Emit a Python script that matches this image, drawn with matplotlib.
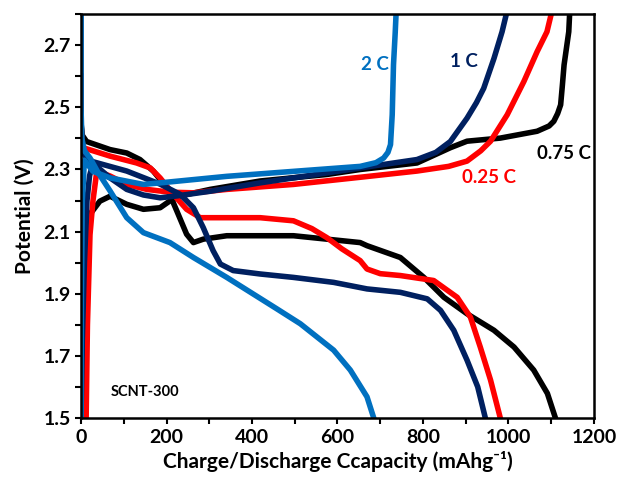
import matplotlib
matplotlib.use("Agg")
import matplotlib.pyplot as plt
from matplotlib.ticker import MultipleLocator

plt.rcParams['font.family'] = ['Lato', 'DejaVu Sans']
plt.rcParams['font.weight'] = 'bold'

# 2 C (light blue)
c2_dis_x = [0, 0, 2, 8, 21, 40, 68, 107, 146, 208, 263, 341, 458, 513, 591, 630, 669, 685]
c2_dis_y = [2.80, 2.50, 2.40, 2.36, 2.337, 2.29, 2.231, 2.145, 2.097, 2.065, 2.017, 1.953, 1.852, 1.804, 1.719, 1.655, 1.569, 1.50]
c2_chg_x = [0, 1, 3, 8, 28, 68, 146, 185, 341, 497, 653, 690, 708, 718, 724, 728, 731, 735, 737]
c2_chg_y = [1.50, 1.90, 2.20, 2.33, 2.294, 2.273, 2.252, 2.257, 2.278, 2.294, 2.31, 2.322, 2.337, 2.355, 2.38, 2.476, 2.637, 2.74, 2.80]

# 1 C (navy)
c1_dis_x = [0, 0, 3, 10, 28, 107, 185, 232, 263, 286, 309, 326, 356, 419, 497, 591, 669, 747, 810, 841, 872, 903, 928, 946]
c1_dis_y = [2.80, 2.45, 2.37, 2.34, 2.325, 2.295, 2.253, 2.22, 2.177, 2.113, 2.039, 1.996, 1.975, 1.964, 1.953, 1.937, 1.916, 1.905, 1.884, 1.847, 1.783, 1.687, 1.601, 1.50]
c1_chg_x = [0, 3, 8, 14, 20, 28, 68, 107, 146, 185, 224, 302, 419, 575, 653, 786, 830, 864, 903, 925, 942, 966, 985, 995]
c1_chg_y = [1.50, 1.75, 2.00, 2.20, 2.28, 2.32, 2.273, 2.236, 2.218, 2.209, 2.215, 2.23, 2.257, 2.289, 2.305, 2.332, 2.355, 2.39, 2.465, 2.515, 2.561, 2.657, 2.743, 2.80]

# 0.75 C (black)
c075_dis_x = [0, 0, 3, 13, 68, 107, 138, 169, 201, 224, 247, 263, 286, 341, 497, 653, 669, 747, 802, 849, 903, 966, 1013, 1059, 1091, 1110]
c075_dis_y = [2.60, 2.45, 2.41, 2.39, 2.364, 2.353, 2.332, 2.295, 2.241, 2.167, 2.092, 2.065, 2.076, 2.087, 2.087, 2.065, 2.055, 2.017, 1.953, 1.889, 1.836, 1.783, 1.729, 1.655, 1.58, 1.50]
c075_chg_x = [0, 3, 8, 14, 21, 44, 68, 107, 146, 185, 208, 232, 302, 419, 575, 653, 786, 864, 903, 981, 1067, 1095, 1106, 1115, 1122, 1126, 1130, 1141, 1143]
c075_chg_y = [1.50, 1.75, 1.95, 2.08, 2.156, 2.198, 2.214, 2.188, 2.172, 2.177, 2.199, 2.215, 2.236, 2.263, 2.284, 2.30, 2.321, 2.37, 2.391, 2.401, 2.423, 2.44, 2.455, 2.48, 2.508, 2.57, 2.636, 2.743, 2.80]

# 0.25 C (red)
c025_dis_x = [0, 0, 2, 5, 68, 130, 162, 185, 216, 247, 279, 341, 419, 497, 540, 575, 610, 653, 669, 700, 747, 825, 880, 911, 934, 958, 981]
c025_dis_y = [2.60, 2.45, 2.39, 2.37, 2.343, 2.321, 2.305, 2.273, 2.22, 2.172, 2.145, 2.145, 2.145, 2.135, 2.11, 2.081, 2.045, 2.007, 1.98, 1.965, 1.959, 1.943, 1.889, 1.825, 1.729, 1.623, 1.50]
c025_chg_x = [12, 15, 21, 28, 37, 68, 107, 154, 208, 263, 341, 497, 653, 786, 860, 903, 935, 958, 997, 1036, 1067, 1090, 1100]
c025_chg_y = [1.50, 1.80, 2.09, 2.20, 2.295, 2.279, 2.252, 2.236, 2.227, 2.225, 2.236, 2.252, 2.275, 2.295, 2.31, 2.327, 2.36, 2.391, 2.476, 2.583, 2.679, 2.743, 2.80]

fig = plt.figure(figsize=(6.17, 4.83), dpi=100)
ax = fig.add_axes([0.1313, 0.134, 0.8314, 0.837])

lw = 4
ax.plot(c075_dis_x, c075_dis_y, color='black', lw=lw)
ax.plot(c075_chg_x, c075_chg_y, color='black', lw=lw)
ax.plot(c025_dis_x, c025_dis_y, color='#FF0000', lw=lw)
ax.plot(c025_chg_x, c025_chg_y, color='#FF0000', lw=lw)
ax.plot(c1_dis_x, c1_dis_y, color='#002060', lw=lw)
ax.plot(c1_chg_x, c1_chg_y, color='#002060', lw=lw)
ax.plot(c2_dis_x, c2_dis_y, color='#0070C0', lw=lw)
ax.plot(c2_chg_x, c2_chg_y, color='#0070C0', lw=lw)

ax.set_xlim(0, 1200)
ax.set_ylim(1.5, 2.8)
ax.xaxis.set_major_locator(MultipleLocator(200))
ax.xaxis.set_minor_locator(MultipleLocator(100))
ax.set_yticks([1.5, 1.7, 1.9, 2.1, 2.3, 2.5, 2.7])
ax.yaxis.set_minor_locator(MultipleLocator(0.1))
ax.tick_params(which='both', direction='out', length=4, width=1.5, labelsize=14)
for s in ax.spines.values():
    s.set_linewidth(1.8)

ax.set_xlabel('Charge/Discharge Ccapacity (mAhg\u207b\u00b9)', fontsize=15, fontweight='bold', labelpad=4)
ax.set_ylabel('Potential (V)', fontsize=15, fontweight='bold', labelpad=6)

ax.text(688, 2.637, '2 C', color='#0070C0', fontsize=13.5, fontweight='bold', ha='center', va='center')
ax.text(895, 2.647, '1 C', color='#002060', fontsize=13.5, fontweight='bold', ha='center', va='center')
ax.text(1129, 2.352, '0.75 C', color='black', fontsize=13.5, fontweight='bold', ha='center', va='center')
ax.text(955, 2.275, '0.25 C', color='#FF0000', fontsize=13.5, fontweight='bold', ha='center', va='center')
ax.text(150, 1.585, 'SCNT-300', color='black', fontsize=10.5, fontweight='bold', ha='center', va='center')

fig.savefig('out.png', dpi=100)
